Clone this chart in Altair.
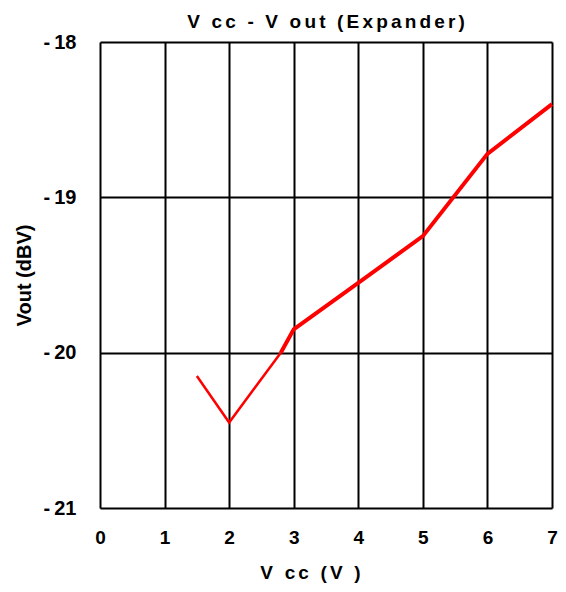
import altair as alt
import pandas as pd

vcc = [1.5, 2, 2.8, 3, 4, 5, 6, 7]
vout = [-20.15, -20.45, -20.0, -19.85, -19.55, -19.25, -18.72, -18.4]
x_ticks = [0, 1, 2, 3, 4, 5, 6, 7]
y_ticks = [-21, -20, -19, -18]

rows = []
for i, (x, y) in enumerate(zip(vcc, vout)):
    if i <= 2:
        rows.append({"vcc": x, "vout": y, "part": "a"})
    if i >= 2:
        rows.append({"vcc": x, "vout": y, "part": "b"})
df = pd.DataFrame(rows)

FONT = "Liberation Sans"
LS = "\u2006"


def spaced(s):
    return LS.join("\u00a0" if ch == " " else ch for ch in s)


title_text = spaced("V cc - V out (Expander)")
xtitle_text = spaced("V cc (V )")

base = alt.Chart(df).encode(
    x=alt.X("vcc:Q", scale=alt.Scale(domain=[0, 7], nice=False, zero=False),
            axis=alt.Axis(values=x_ticks, title=xtitle_text, grid=True, gridColor="black",
                          gridWidth=2, gridOpacity=1, ticks=False, domain=False,
                          labelFont=FONT, labelFontSize=19, labelFontWeight="bold",
                          labelColor="black", labelPadding=20, labelFlush=False,
                          titleFont=FONT, titleFontSize=19, titleFontWeight="bold",
                          titleColor="black", titlePadding=16, titleX=210,
                          titleAlign="center")),
    y=alt.Y("vout:Q", scale=alt.Scale(domain=[-21, -18], nice=False, zero=False),
            axis=alt.Axis(values=y_ticks, title="Vout (dBV)", grid=True, gridColor="black",
                          gridWidth=2, gridOpacity=1, ticks=False, domain=False,
                          labelExpr="'-\u2009' + abs(datum.value)",
                          labelFont=FONT, labelFontSize=20, labelFontWeight="bold",
                          labelColor="black", labelPadding=24, labelFlush=False,
                          titleFont=FONT, titleFontSize=20, titleFontWeight="bold",
                          titleColor="black", titlePadding=9)),
    detail="part:N",
)

thin = base.mark_line(color="#ff0000", strokeWidth=2.5).transform_filter(alt.datum.part == "a")
thick = base.mark_line(color="#ff0000", strokeWidth=4).transform_filter(alt.datum.part == "b")

chart = alt.layer(thin, thick).properties(
    width=452,
    height=466,
    autosize=alt.AutoSizeParams(type="none"),
    padding={"left": 92, "top": 34, "right": 6, "bottom": 76},
    title=alt.TitleParams(title_text, font=FONT, fontSize=19, fontWeight="bold",
                          color="black", offset=0, anchor="middle", frame="group"),
).configure_view(stroke="black", strokeWidth=2).configure(background="white")

chart.save("out.html", embed_options={"renderer": "svg", "actions": False})
